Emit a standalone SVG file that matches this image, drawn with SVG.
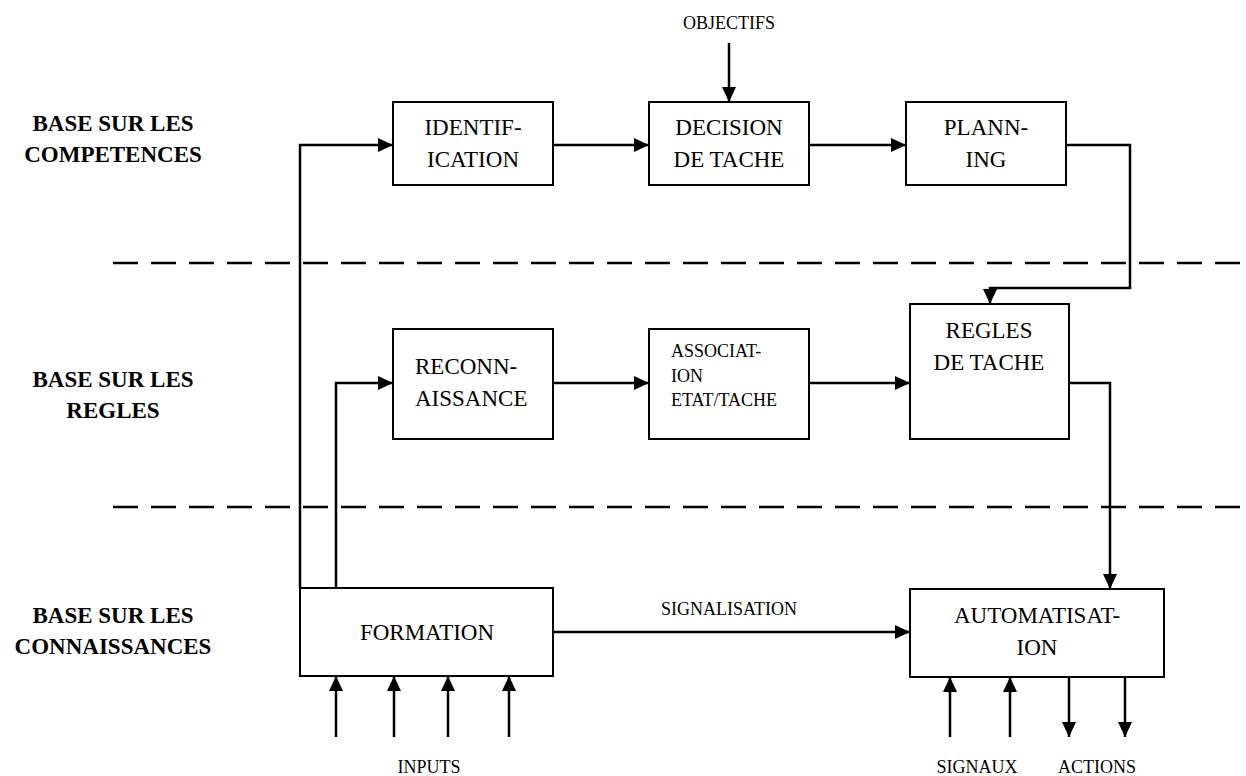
<svg xmlns="http://www.w3.org/2000/svg" width="1246" height="776" viewBox="0 0 1246 776">
  <style>
    text { font-family: 'Liberation Serif', 'Times New Roman', serif; fill: #000; }
    .box { fill: #fff; stroke: #000; stroke-width: 2; }
    .t { font-size: 23px; text-anchor: middle; }
    .tl { font-size: 23px; }
    .ts { font-size: 18px; }
    .small { font-size: 18px; text-anchor: middle; }
    .lvl { font-size: 23px; font-weight: bold; text-anchor: middle; }
    .dash { stroke: #000; stroke-width: 2.5; stroke-dasharray: 25 13; fill: none; }
    .cn { stroke: #000; stroke-width: 2.5; fill: none; marker-end: url(#ah); }
  </style>
  <defs>
    <marker id="ah" viewBox="0 0 10 10" refX="10" refY="5" markerWidth="6" markerHeight="5.6" markerUnits="strokeWidth" orient="auto" preserveAspectRatio="none">
      <path d="M0,0 L10,5 L0,10 z" fill="#000"/>
    </marker>
  </defs>
  <rect width="1246" height="776" fill="#fff"/>

  <!-- level labels -->
  <g id="levels">
    <text class="lvl" x="113" y="131">BASE SUR LES</text>
    <text class="lvl" x="113" y="162">COMPETENCES</text>
    <text class="lvl" x="113" y="387">BASE SUR LES</text>
    <text class="lvl" x="113" y="418">REGLES</text>
    <text class="lvl" x="113" y="623">BASE SUR LES</text>
    <text class="lvl" x="113" y="654">CONNAISSANCES</text>
  </g>

  <!-- level separators -->
  <g id="separators">
    <line class="dash" x1="113" y1="263" x2="1246" y2="263"/>
    <line class="dash" x1="113" y1="507" x2="1246" y2="507"/>
  </g>

  <!-- connectors -->
  <g id="connectors">
    <line class="cn" x1="729" y1="43" x2="729" y2="102"/>
    <polyline class="cn" points="300,588 300,145 393,145"/>
    <polyline class="cn" points="336,588 336,383 393,383"/>
    <line class="cn" x1="553" y1="145" x2="649" y2="145"/>
    <line class="cn" x1="809" y1="145" x2="906" y2="145"/>
    <polyline class="cn" points="1066,145 1130,145 1130,288 990,288 990,304"/>
    <line class="cn" x1="553" y1="383" x2="649" y2="383"/>
    <line class="cn" x1="809" y1="383" x2="910" y2="383"/>
    <polyline class="cn" points="1069,383 1110,383 1110,589"/>
    <line class="cn" x1="553" y1="632" x2="910" y2="632"/>
    <line class="cn" x1="336" y1="737" x2="336" y2="676"/>
    <line class="cn" x1="394" y1="737" x2="394" y2="676"/>
    <line class="cn" x1="448" y1="737" x2="448" y2="676"/>
    <line class="cn" x1="509" y1="737" x2="509" y2="676"/>
    <line class="cn" x1="950" y1="737" x2="950" y2="677"/>
    <line class="cn" x1="1010" y1="737" x2="1010" y2="677"/>
    <line class="cn" x1="1069" y1="677" x2="1069" y2="737"/>
    <line class="cn" x1="1125" y1="677" x2="1125" y2="737"/>
    <text class="small" x="729" y="29">OBJECTIFS</text>
    <text class="small" x="729" y="615">SIGNALISATION</text>
    <text class="small" x="429" y="773">INPUTS</text>
    <text class="small" x="977" y="773">SIGNAUX</text>
    <text class="small" x="1097" y="773">ACTIONS</text>
  </g>

  <g id="identification">
    <rect class="box" x="393" y="102" width="160" height="83"/>
    <text class="t" x="473" y="135">IDENTIF-</text>
    <text class="t" x="473" y="167">ICATION</text>
  </g>
  <g id="decision">
    <rect class="box" x="649" y="102" width="160" height="83"/>
    <text class="t" x="729" y="135">DECISION</text>
    <text class="t" x="729" y="167">DE TACHE</text>
  </g>
  <g id="planning">
    <rect class="box" x="906" y="102" width="160" height="83"/>
    <text class="t" x="986" y="135">PLANN-</text>
    <text class="t" x="986" y="167">ING</text>
  </g>
  <g id="reconnaissance">
    <rect class="box" x="393" y="329" width="160" height="110"/>
    <text class="tl" x="415" y="374">RECONN-</text>
    <text class="tl" x="415" y="406">AISSANCE</text>
  </g>
  <g id="association">
    <rect class="box" x="649" y="329" width="160" height="110"/>
    <text class="ts" x="671" y="357">ASSOCIAT-</text>
    <text class="ts" x="671" y="382">ION</text>
    <text class="ts" x="671" y="406">ETAT/TACHE</text>
  </g>
  <g id="regles">
    <rect class="box" x="910" y="304" width="159" height="135"/>
    <text class="t" x="989" y="338">REGLES</text>
    <text class="t" x="989" y="370">DE TACHE</text>
  </g>
  <g id="formation">
    <rect class="box" x="300" y="588" width="253" height="88"/>
    <text class="t" x="427" y="640">FORMATION</text>
  </g>
  <g id="automatisation">
    <rect class="box" x="910" y="589" width="254" height="88"/>
    <text class="t" x="1037" y="623">AUTOMATISAT-</text>
    <text class="t" x="1037" y="655">ION</text>
  </g>
</svg>
